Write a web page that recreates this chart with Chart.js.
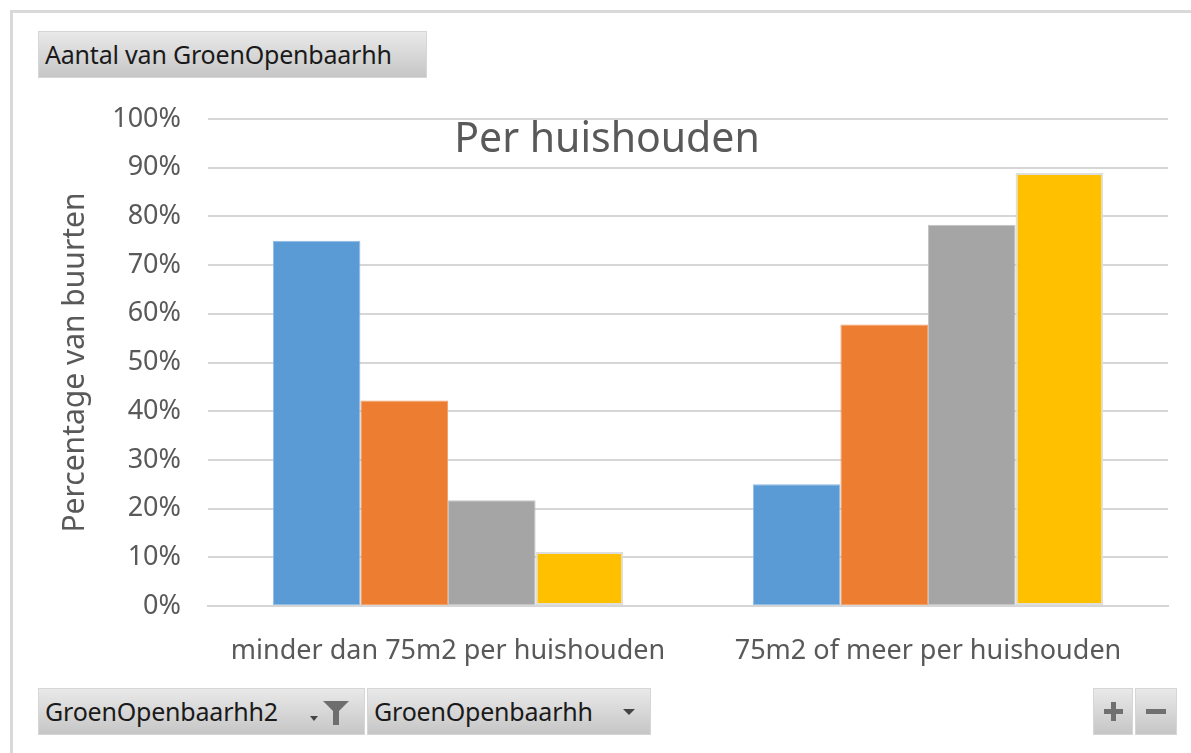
<!DOCTYPE html>
<html>
<head>
<meta charset="utf-8">
<script src="https://cdn.jsdelivr.net/npm/chart.js@4"></script>
<style>
  body { margin: 0; background: #fff; }
  #wrap { position: relative; width: 1191px; height: 753px; overflow: hidden; }
  #frame { position: absolute; left: 10px; top: 10px; width: 1200px; height: 760px;
           border-left: 3px solid #d9d9d9; border-top: 3px solid #d9d9d9; box-sizing: border-box; }
  canvas { position: absolute; left: 0; top: 0; }
  .btn { position: absolute; height: 47px; box-sizing: border-box;
         background: linear-gradient(#e9e9e9, #c6c6c6); border: 1px solid #d6d6d6;
         font-family: "Noto Sans", sans-serif; font-size: 25px; color: #1a1a1a;
         line-height: 45px; padding-left: 6px; white-space: nowrap; letter-spacing: -0.2px; }
  .arrow { position: absolute; width: 0; height: 0; border-left: 6px solid transparent;
           border-right: 6px solid transparent; border-top: 6px solid #444; }
  .funnel { position: absolute; width: 0; height: 0; border-left: 13px solid transparent;
            border-right: 13px solid transparent; border-top: 13px solid #6e6e6e; }
  .stem { position: absolute; width: 6px; height: 14px; background: #6e6e6e; }
  .pm { position: absolute; background: #707070; }
</style>
</head>
<body>
<div id="wrap">
  <div id="frame"></div>
  <canvas id="chart" width="1191" height="753"></canvas>
  <div class="btn" style="left:38px; top:31px; width:389px;">Aantal van GroenOpenbaarhh</div>
  <div class="btn" style="left:38px; top:688px; width:327px;">GroenOpenbaarhh2
    <div class="arrow" style="left:271px; top:27px; border-left-width:4px; border-right-width:4px; border-top-width:5px;"></div>
    <div class="funnel" style="left:284px; top:12px;"></div>
    <div class="stem" style="left:294px; top:22px;"></div>
  </div>
  <div class="btn" style="left:367px; top:688px; width:284px;">GroenOpenbaarhh
    <div class="arrow" style="left:255px; top:20px;"></div>
  </div>
  <div class="btn" style="left:1093px; top:688px; width:40px;">
    <div class="pm" style="left:10px; top:20px; width:19px; height:5px;"></div>
    <div class="pm" style="left:17px; top:13px; width:5px; height:19px;"></div>
  </div>
  <div class="btn" style="left:1135px; top:688px; width:42px;">
    <div class="pm" style="left:10px; top:20px; width:20px; height:5px;"></div>
  </div>
</div>
<script>
const categories = ['minder dan 75m2 per huishouden', '75m2 of meer per huishouden'];
const seriesNames = ['Reeks 1', 'Reeks 2', 'Reeks 3', 'Reeks 4'];
const series1 = [75.0, 25.0];
const series2 = [42.2, 57.8];
const series3 = [21.7, 78.3];
const series4 = [11.1, 88.9];
const yTicks = [0, 10, 20, 30, 40, 50, 60, 70, 80, 90, 100];

const txt = '#595959';
const font = 'Noto Sans, sans-serif';

const overlayTitle = {
  id: 'overlayTitle',
  afterDraw(chart) {
    const ctx = chart.ctx;
    const y = chart.scales.y.getPixelForValue(95.7);
    ctx.save();
    ctx.font = '41px ' + font;
    ctx.fillStyle = txt;
    ctx.textAlign = 'center';
    ctx.textBaseline = 'middle';
    ctx.fillText('Per huishouden', 607, y);
    ctx.restore();
  }
};

function makeSet(label, data, color, border, bw) {
  return {
    label: label,
    data: data,
    backgroundColor: color,
    borderColor: border,
    borderWidth: bw,
    borderSkipped: false
  };
}

new Chart(document.getElementById('chart'), {
  type: 'bar',
  data: {
    labels: categories,
    datasets: [
      makeSet(seriesNames[0], series1, '#5B9BD5', '#8fbbe6', 1),
      makeSet(seriesNames[1], series2, '#ED7D31', '#f3a26e', 1),
      makeSet(seriesNames[2], series3, '#A5A5A5', '#c4c4c4', 1),
      makeSet(seriesNames[3], series4, '#FFC000', '#dedede', 2)
    ]
  },
  plugins: [overlayTitle],
  options: {
    responsive: false,
    animation: false,
    layout: { padding: { left: 0, right: 23, top: 119, bottom: 0 } },
    datasets: { bar: { barPercentage: 1, categoryPercentage: 0.73 } },
    plugins: { legend: { display: false }, tooltip: { enabled: false } },
    scales: {
      x: {
        afterFit(scale) { scale.height = 147; },
        grid: { display: false },
        border: { color: '#d6d6d6', width: 2 },
        ticks: { color: txt, font: { family: font, size: 27 }, padding: 21 }
      },
      y: {
        min: 0,
        max: 100,
        afterFit(scale) { scale.width = 208; },
        afterBuildTicks(scale) { scale.ticks = yTicks.map(v => ({ value: v })); },
        grid: { color: '#d6d6d6', lineWidth: 2, drawTicks: false },
        border: { display: false },
        ticks: {
          color: txt,
          font: { family: font, size: 27 },
          padding: 27,
          callback: v => v + '%'
        },
        title: {
          display: true,
          text: 'Percentage van buurten',
          color: txt,
          font: { family: font, size: 30 },
          padding: { top: 57, bottom: 0 }
        }
      }
    }
  }
});
</script>
</body>
</html>
